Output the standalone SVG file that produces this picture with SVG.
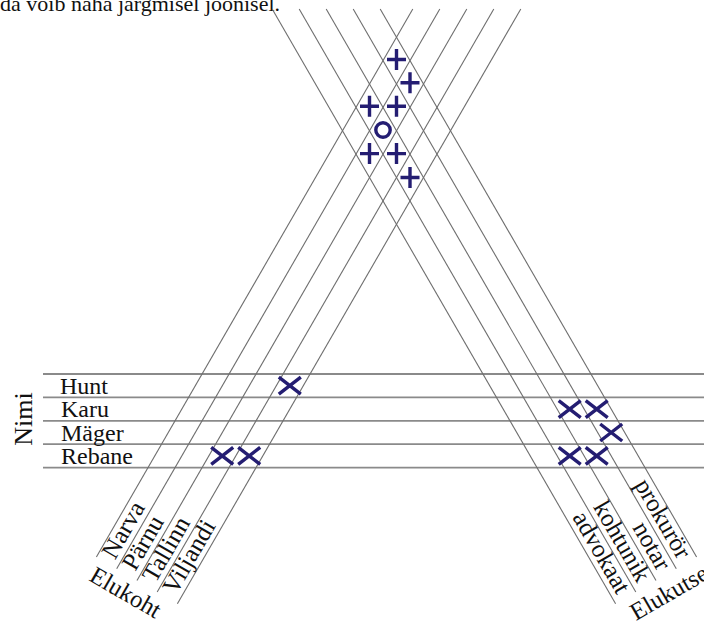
<svg xmlns="http://www.w3.org/2000/svg" width="704" height="623" viewBox="0 0 704 623">
<style>
text{font-family:"Liberation Serif","Times New Roman",serif;fill:#111}
.row{font-size:24px}
.lbl{font-size:25px}
.ttl{font-size:24.5px}
.hl{stroke:#8a8a8a;stroke-width:1.8;fill:none}
.dl{stroke:#6e6e6e;stroke-width:1.1;fill:none}
.mk{stroke:#241d72;stroke-width:3.4;fill:none;stroke-linecap:butt}
</style>
<defs>
<g id="plus"><path class="mk" d="M-9.5 0H9.5M0 -10.5V10.5"/></g>
<g id="ex"><path class="mk" d="M-11 -8.5L11 8.5M-11 8.5L11 -8.5"/></g>
</defs>
<rect width="704" height="623" fill="#fff"/>
<text x="0" y="10.5" style="font-size:22px">da võib näha järgmisel joonisel.</text>
<g id="connectors">
<g id="rows">
<line class="hl" x1="43" y1="374" x2="704" y2="374"/>
<line class="hl" x1="43" y1="397.4" x2="704" y2="397.4"/>
<line class="hl" x1="43" y1="420.8" x2="704" y2="420.8"/>
<line class="hl" x1="43" y1="444.2" x2="704" y2="444.2"/>
<line class="hl" x1="43" y1="467.6" x2="704" y2="467.6"/>
</g>
<g id="elukoht-lines">
<line class="dl" x1="412.8" y1="9" x2="96.4" y2="557"/>
<line class="dl" x1="439.8" y1="9" x2="116.7" y2="568.7"/>
<line class="dl" x1="466.8" y1="9" x2="137" y2="580.4"/>
<line class="dl" x1="493.8" y1="9" x2="157.2" y2="592.1"/>
<line class="dl" x1="520.8" y1="9" x2="177.4" y2="603.8"/>
</g>
<g id="elukutse-lines">
<line class="dl" x1="272.2" y1="9" x2="615.6" y2="603.8"/>
<line class="dl" x1="299.2" y1="9" x2="635.8" y2="592.1"/>
<line class="dl" x1="326.2" y1="9" x2="656" y2="580.4"/>
<line class="dl" x1="353.2" y1="9" x2="676.3" y2="568.7"/>
<line class="dl" x1="380.2" y1="9" x2="696.6" y2="557"/>
</g>
</g>
<g id="nimi">
<text transform="translate(32 419) rotate(-90)" text-anchor="middle" style="font-size:26px">Nimi</text>
<text class="row" x="60" y="393.5">Hunt</text>
<text class="row" x="61" y="417">Karu</text>
<text class="row" x="61" y="440.5">Mäger</text>
<text class="row" x="61" y="463.5">Rebane</text>
</g>
<g id="elukoht">
<text class="lbl" transform="translate(115 560.4) rotate(-60)">Narva</text>
<text class="lbl" transform="translate(135.3 572.1) rotate(-60)">Pärnu</text>
<text class="lbl" transform="translate(155.6 583.8) rotate(-60)">Tallinn</text>
<text class="lbl" transform="translate(175.9 595.5) rotate(-60)">Viljandi</text>
<text class="ttl" transform="translate(88 580) rotate(30)">Elukoht</text>
</g>
<g id="elukutse">
<text class="lbl" text-anchor="end" transform="translate(617 595.5) rotate(60)">advokaat</text>
<text class="lbl" text-anchor="end" transform="translate(637.3 583.8) rotate(60)">kohtunik</text>
<text class="lbl" text-anchor="end" transform="translate(657.6 572.1) rotate(60)">notar</text>
<text class="lbl" text-anchor="end" transform="translate(677.9 560.4) rotate(60)">prokurör</text>
<text class="ttl" transform="translate(636 621) rotate(-30)">Elukutse</text>
</g>
<g id="marks-top">
<use href="#plus" x="396.5" y="59.5"/>
<use href="#plus" x="410" y="82.8"/>
<use href="#plus" x="369.5" y="106.2"/>
<use href="#plus" x="396.5" y="106.2"/>
<circle class="mk" cx="383" cy="130" r="7.2"/>
<use href="#plus" x="369.5" y="153.6"/>
<use href="#plus" x="396.5" y="153.6"/>
<use href="#plus" x="410" y="177.5"/>
</g>
<g id="marks-bottom">
<use href="#ex" x="289.8" y="385.7"/>
<use href="#ex" x="222.2" y="455.9"/>
<use href="#ex" x="249.2" y="455.9"/>
<use href="#ex" x="569.7" y="409.1"/>
<use href="#ex" x="596.7" y="409.1"/>
<use href="#ex" x="611.2" y="432.5"/>
<use href="#ex" x="569.7" y="455.9"/>
<use href="#ex" x="596.7" y="455.9"/>
</g>
</svg>
